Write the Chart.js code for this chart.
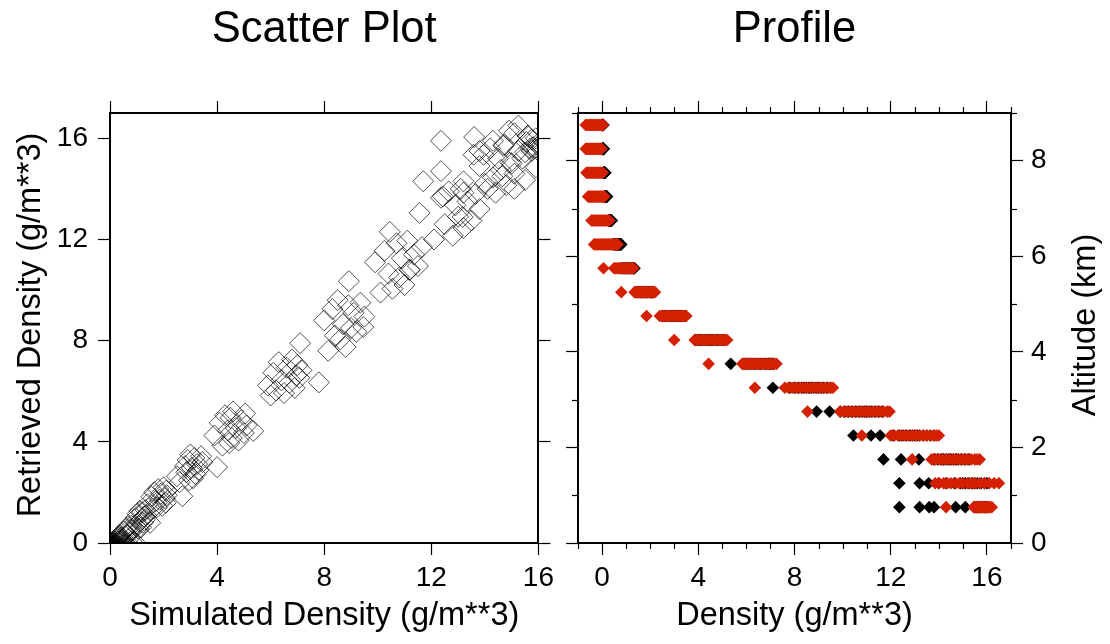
<!DOCTYPE html>
<html><head><meta charset="utf-8">
<script src="https://cdn.jsdelivr.net/npm/chart.js@4/dist/chart.umd.min.js"></script>
<style>
html,body{margin:0;padding:0;background:#fff;}
#wrap{position:relative;width:1110px;height:644px;overflow:hidden;}
#c1{position:absolute;left:0;top:0;}
#c2{position:absolute;left:560px;top:0;}
</style></head><body>
<div id="wrap"><canvas id="c1" width="560" height="644"></canvas><canvas id="c2" width="550" height="644"></canvas></div>
<script>
// ---- data (one row per altitude level; simulated[i][j] pairs with retrieved[i][j]) ----
const altitudes = [0.75,1.25,1.75,2.25,2.75,3.25,3.75,4.25,4.75,5.25,5.75,6.25,6.75,7.25,7.75,8.25,8.75];
const simulatedByLevel = [
  [12.36,13.2,13.6,13.8,14.7,15.1,15.5,15.55,15.6,15.7,15.75,15.8,15.9,15.95,16.0,16.1],
  [12.36,13.2,13.58,14.0,14.3,14.65,14.9,15.0,15.1,15.25,15.4,15.5,15.6,15.75,15.9,16.0],
  [11.7,12.43,13.17,13.8,13.95,14.1,14.2,14.3,14.4,14.5,14.6,14.7,14.8,14.95,15.1,15.25],
  [10.45,11.18,11.56,12.1,12.36,12.5,12.65,12.8,12.9,13.0,13.1,13.2,13.35,13.5,13.65,13.8],
  [8.92,9.46,9.9,10.1,10.25,10.4,10.55,10.7,10.8,10.9,11.0,11.1,11.2,11.35,11.5,11.65],
  [7.1,7.8,8.0,8.15,8.3,8.4,8.5,8.6,8.7,8.8,8.9,9.0,9.1,9.2,9.35,9.5],
  [5.35,5.9,6.0,6.1,6.2,6.3,6.4,6.5,6.6,6.7,6.8,6.9,6.95,7.0,7.07,7.15],
  [3.9,4.0,4.1,4.2,4.3,4.4,4.45,4.5,4.55,4.6,4.7,4.8,4.9,5.0,5.05,5.1],
  [2.5,2.6,2.7,2.8,2.85,2.9,2.95,3.0,3.05,3.1,3.15,3.2,3.25,3.3,3.4,3.45],
  [1.4,1.5,1.55,1.6,1.65,1.7,1.75,1.8,1.85,1.9,1.95,2.0,2.05,2.08,2.1,2.12],
  [0.8,0.85,0.9,0.95,1.0,1.03,1.06,1.1,1.13,1.16,1.2,1.23,1.26,1.3,1.33,1.35],
  [0.45,0.5,0.53,0.56,0.58,0.6,0.62,0.64,0.66,0.68,0.7,0.72,0.74,0.76,0.78,0.8],
  [0.25,0.27,0.28,0.29,0.3,0.31,0.32,0.33,0.34,0.35,0.36,0.37,0.38,0.39,0.4,0.4],
  [0.1,0.11,0.12,0.13,0.13,0.14,0.15,0.15,0.16,0.17,0.17,0.18,0.18,0.19,0.2,0.2],
  [0.05,0.06,0.06,0.07,0.08,0.08,0.09,0.09,0.1,0.1,0.11,0.11,0.12,0.12,0.13,0.13],
  [0.01,0.02,0.02,0.02,0.03,0.03,0.03,0.04,0.04,0.04,0.05,0.05,0.05,0.06,0.06,0.06],
  [0.0,0.01,0.01,0.01,0.02,0.02,0.02,0.03,0.03,0.03,0.03,0.04,0.04,0.04,0.05,0.05]
];
const retrievedByLevel = [
  [15.9,14.3,16.05,15.5,15.75,16.2,15.45,15.85,16.1,15.6,15.95,15.65,16.0,15.55,15.8,15.7],
  [14.7,13.85,15.35,14.2,15.9,14.5,16.3,15.0,14.0,16.5,15.2,14.35,16.1,15.5,14.85,15.7],
  [14.3,13.7,12.89,14.9,15.35,14.0,15.6,14.45,13.85,15.2,14.75,15.7,14.15,15.05,14.6,15.5],
  [12.3,10.8,13.05,12.0,13.65,12.6,13.9,12.15,13.35,12.9,14.0,12.45,13.5,12.75,13.8,13.2],
  [10.35,8.54,11.1,9.9,11.55,10.65,10.05,11.85,10.5,11.25,10.2,11.95,10.8,11.4,10.95,11.7],
  [7.9,6.35,8.8,7.6,9.25,8.2,9.6,8.05,8.65,7.75,9.4,8.5,9.1,8.35,9.5,8.95],
  [4.43,6.23,5.83,6.73,6.03,7.15,6.43,5.93,6.93,6.33,7.25,6.13,6.63,7.03,6.53,6.83],
  [4.25,3.0,4.75,3.85,5.05,4.45,3.95,4.95,4.15,5.2,4.55,4.05,4.85,4.35,5.12,4.65],
  [2.64,2.4,1.85,3.04,2.8,3.28,2.48,3.5,2.96,2.56,3.36,2.72,3.12,2.88,3.43,3.2],
  [1.53,0.8,1.83,1.35,2.01,1.65,1.41,2.13,1.71,1.95,1.47,2.2,1.77,1.59,2.07,1.89],
  [0.68,0.5,0.06,0.98,0.74,1.16,0.56,1.27,0.86,0.62,1.22,0.8,1.04,0.92,1.3,1.1],
  [0.13,-0.33,0.46,-0.07,0.26,0.59,-0.2,0.33,0.0,0.65,-0.13,0.4,0.2,0.53,-0.26,0.07],
  [-0.09,-0.44,0.16,-0.24,0.06,-0.34,0.26,-0.04,-0.19,0.3,-0.14,0.11,-0.39,0.21,-0.29,0.01],
  [-0.26,-0.58,0.02,-0.4,-0.12,-0.49,0.1,-0.21,-0.35,0.06,-0.03,-0.53,-0.17,-0.3,-0.08,-0.44],
  [-0.33,-0.65,-0.06,-0.46,-0.15,-0.55,0.03,-0.28,-0.42,-0.01,-0.1,-0.6,-0.24,-0.37,-0.19,-0.51],
  [-0.37,-0.68,-0.11,-0.5,-0.2,-0.59,-0.02,-0.33,-0.46,-0.06,-0.15,-0.64,-0.28,-0.42,-0.24,-0.55],
  [-0.34,-0.68,-0.05,-0.49,-0.15,-0.58,0.04,-0.29,-0.44,0.0,-0.1,-0.63,-0.24,-0.39,-0.2,-0.53]
];
const scatterTicks = [0,4,8,12,16];
const profileDensityTicks = [0,4,8,12,16];
const profileDensityMinor = [-1,1,2,3,5,6,7,9,10,11,13,14,15,17];
const altitudeTicks = [0,2,4,6,8];
const altitudeMinor = [1,3,5,7,9];

const FONT = "'Liberation Sans', Arial, Helvetica, sans-serif";
const RED = 'rgb(212,32,0)';

// ---- derived point lists ----
const scatterPoints = [];
const simPoints = [];
const retPoints = [];
altitudes.forEach((alt, i) => {
  simulatedByLevel[i].forEach((s, j) => {
    const r = retrievedByLevel[i][j];
    scatterPoints.push({x: s, y: r});
    simPoints.push({x: s, y: alt});
    retPoints.push({x: r, y: alt});
  });
});

// ---- helpers ----
function setTicks(arr){ return s => { s.ticks = arr.map(v => ({value: v})); }; }
function axis(pos, min, max, tickArr, size, showLabels, pad){
  const horiz = pos === 'top' || pos === 'bottom';
  return {
    type: 'linear', axis: horiz ? 'x' : 'y', position: pos, min, max,
    afterBuildTicks: setTicks(tickArr),
    afterFit: s => { if (horiz) s.height = size; else s.width = size; },
    grid: {display: true, drawOnChartArea: false, drawTicks: true, tickLength: 12, tickColor: '#000', tickWidth: 1.2},
    border: {display: true, color: '#000', width: 2},
    ticks: {display: showLabels, color: '#000', font: {family: FONT, size: 28}, padding: pad, maxRotation: 0, autoSkip: false}
  };
}

const decor = {
  id: 'decor',
  afterDraw(chart, args, opts){
    const ctx = chart.ctx, a = chart.chartArea;
    ctx.save();
    ctx.strokeStyle = '#000'; ctx.lineWidth = 1.2;
    (opts.minor || []).forEach(m => {
      const sc = chart.scales[m.scale];
      m.values.forEach(v => {
        const p = Math.round(sc.getPixelForValue(v)) + 0.5;
        ctx.beginPath();
        if (sc.position === 'bottom') { ctx.moveTo(p, a.bottom); ctx.lineTo(p, a.bottom + m.len); }
        else if (sc.position === 'top') { ctx.moveTo(p, a.top); ctx.lineTo(p, a.top - m.len); }
        else if (sc.position === 'left') { ctx.moveTo(a.left, p); ctx.lineTo(a.left - m.len, p); }
        else { ctx.moveTo(a.right, p); ctx.lineTo(a.right + m.len, p); }
        ctx.stroke();
      });
    });
    ctx.fillStyle = '#000';
    (opts.texts || []).forEach(t => {
      ctx.save();
      ctx.font = t.size + 'px ' + FONT;
      ctx.textAlign = 'center'; ctx.textBaseline = 'alphabetic';
      const cx = t.cx === 'mid' ? (a.left + a.right) / 2 : t.cx;
      const cy = t.cy === 'mid' ? (a.top + a.bottom) / 2 + (t.dy || 0) : t.cy;
      ctx.translate(cx, cy);
      if (t.rot) ctx.rotate(t.rot);
      ctx.fillText(t.text, 0, 0);
      ctx.restore();
    });
    ctx.restore();
  }
};

// ---- left: scatter ----
new Chart(document.getElementById('c1'), {
  type: 'scatter',
  data: {datasets: [{
    data: scatterPoints, pointStyle: 'rectRot', pointRadius: 10.5,
    backgroundColor: 'rgba(0,0,0,0)', borderColor: 'rgba(0,0,0,0.68)', borderWidth: 1,
    clip: {left: 0, top: 0, right: 0, bottom: 0}
  }]},
  options: {
    responsive: false, animation: false, devicePixelRatio: 1,
    layout: {padding: 0},
    plugins: {legend: {display: false}, tooltip: {enabled: false},
      decor: {texts: [
        {text: 'Scatter Plot', cx: 'mid', cy: 42, size: 43.5},
        {text: 'Simulated Density (g/m**3)', cx: 'mid', cy: 625, size: 32.5},
        {text: 'Retrieved Density (g/m**3)', cx: 40, cy: 'mid', dy: -3, size: 32.5, rot: -Math.PI / 2}
      ]}},
    scales: {
      x: axis('bottom', 0, 16, scatterTicks, 101, true, 6),
      x2: axis('top', 0, 16, scatterTicks, 113, false, 0),
      y: axis('left', 0, 17, scatterTicks, 110, true, 10),
      y2: axis('right', 0, 17, scatterTicks, 20, false, 0)
    }
  },
  plugins: [decor]
});

// ---- right: profile ----
new Chart(document.getElementById('c2'), {
  type: 'scatter',
  data: {datasets: [
    {label: 'Retrieved', data: retPoints, order: 1, pointStyle: 'rectRot', pointRadius: 6.3,
      backgroundColor: RED, borderColor: RED, borderWidth: 0},
    {label: 'Simulated', data: simPoints, order: 2, pointStyle: 'rectRot', pointRadius: 6.3,
      backgroundColor: '#000', borderColor: '#000', borderWidth: 0}
  ]},
  options: {
    responsive: false, animation: false, devicePixelRatio: 1,
    layout: {padding: 0},
    plugins: {legend: {display: false}, tooltip: {enabled: false},
      decor: {
        minor: [
          {scale: 'x', values: profileDensityMinor, len: 6},
          {scale: 'x2', values: profileDensityMinor, len: 6},
          {scale: 'y', values: altitudeMinor, len: 6},
          {scale: 'y2', values: altitudeMinor, len: 6}
        ],
        texts: [
          {text: 'Profile', cx: 'mid', cy: 42, size: 43.5},
          {text: 'Density (g/m**3)', cx: 'mid', cy: 625, size: 32.5},
          {text: 'Altitude (km)', cx: 535, cy: 'mid', dy: -3, size: 32.5, rot: -Math.PI / 2}
        ]}},
    scales: {
      x: axis('bottom', -1, 17, profileDensityTicks, 101, true, 6),
      x2: axis('top', -1, 17, profileDensityTicks, 113, false, 0),
      y: axis('left', 0, 9, altitudeTicks, 18, false, 0),
      y2: axis('right', 0, 9, altitudeTicks, 99, true, 8)
    }
  },
  plugins: [decor]
});
</script>
</body></html>
